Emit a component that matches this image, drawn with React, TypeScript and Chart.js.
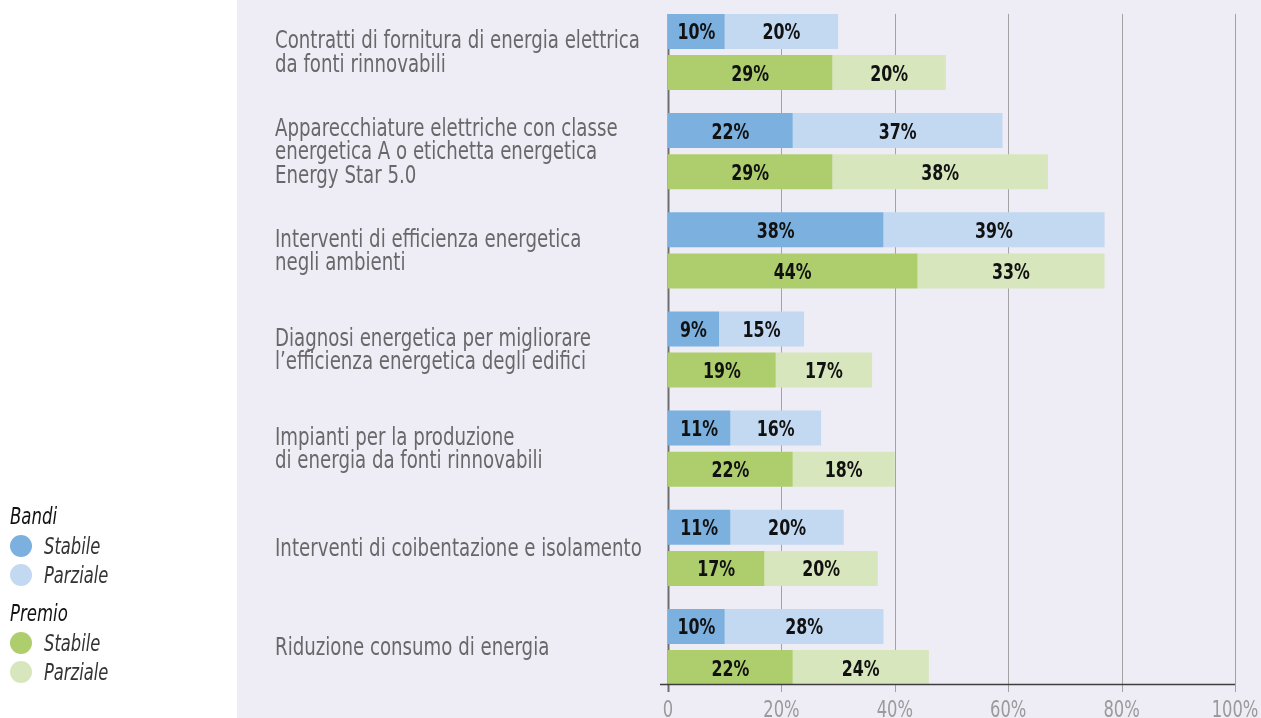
import React, { useEffect, useRef } from "react";
import { Chart, registerables } from "chart.js";

Chart.register(...registerables);

const categories: string[][] = [
  ["Contratti di fornitura di energia elettrica", "da fonti rinnovabili"],
  ["Apparecchiature elettriche con classe", "energetica A o etichetta energetica", "Energy Star 5.0"],
  ["Interventi di efficienza energetica", "negli ambienti"],
  ["Diagnosi energetica per migliorare", "l’efficienza energetica degli edifici"],
  ["Impianti per la produzione", "di energia da fonti rinnovabili"],
  ["Interventi di coibentazione e isolamento"],
  ["Riduzione consumo di energia"],
];

const bandiStabile = [10, 22, 38, 9, 11, 11, 10];
const bandiParziale = [20, 37, 39, 15, 16, 20, 28];
const premioStabile = [29, 29, 44, 19, 22, 17, 22];
const premioParziale = [20, 38, 33, 17, 18, 20, 24];

const xTickValues = [0, 20, 40, 60, 80, 100];
const xTickLabels = ["0", "20%", "40%", "60%", "80%", "100%"];

const legendGroups = [
  { title: "Bandi", items: [{ label: "Stabile", color: "#7BB0DF" }, { label: "Parziale", color: "#C3D8F1" }] },
  { title: "Premio", items: [{ label: "Stabile", color: "#AECE6D" }, { label: "Parziale", color: "#D8E6BD" }] },
];

const FONT = '"DejaVu Sans Condensed", "Liberation Sans Narrow", sans-serif';

function drawNarrow(ctx: any, text: string, x: number, y: number, sx: number, align: string) {
  ctx.save();
  ctx.translate(x, y);
  ctx.scale(sx, 1);
  ctx.textAlign = align;
  ctx.textBaseline = "alphabetic";
  ctx.fillText(text, 0, 0);
  ctx.restore();
}

const customPlugin = {
  id: "customDraw",
  beforeDatasetsDraw(chart: any) {
    const ctx = chart.ctx;
    const x = chart.scales.x;
    const first = chart.getDatasetMeta(0).data[0] as any;
    const lastMeta = chart.getDatasetMeta(3).data;
    const last = lastMeta[lastMeta.length - 1] as any;
    const top = first.y - first.height / 2;
    const axisY = last.y + last.height / 2;
    ctx.save();
    xTickValues.forEach((v) => {
      const px = Math.round(x.getPixelForValue(v)) + 0.5;
      ctx.beginPath();
      if (v === 0) {
        ctx.strokeStyle = "#6E6E70";
        ctx.lineWidth = 2;
      } else {
        ctx.strokeStyle = "#A3A3A6";
        ctx.lineWidth = 1;
      }
      ctx.moveTo(px, top);
      ctx.lineTo(px, axisY + 7);
      ctx.stroke();
    });
    ctx.restore();
  },
  afterDatasetsDraw(chart: any) {
    const ctx = chart.ctx;
    const x = chart.scales.x;
    const y = chart.scales.y;
    const lastMeta = chart.getDatasetMeta(3).data;
    const last = lastMeta[lastMeta.length - 1] as any;
    const axisY = Math.round(last.y + last.height / 2) - 0.5;
    ctx.save();
    // value labels
    ctx.font = `bold 22px ${FONT}`;
    ctx.fillStyle = "#111";
    chart.data.datasets.forEach((ds: any, di: number) => {
      const meta = chart.getDatasetMeta(di);
      meta.data.forEach((bar: any, i: number) => {
        const cx = (bar.x + bar.base) / 2;
        drawNarrow(ctx, ds.data[i] + "%", cx, bar.y + 8, 0.8, "center");
      });
    });
    // axis line
    ctx.beginPath();
    ctx.strokeStyle = "#3E3E40";
    ctx.lineWidth = 1.5;
    ctx.moveTo(x.getPixelForValue(0) - 8, axisY);
    ctx.lineTo(x.getPixelForValue(100), axisY);
    ctx.stroke();
    // x tick labels
    ctx.font = `23px ${FONT}`;
    ctx.fillStyle = "#9A9A9C";
    xTickValues.forEach((v, i) => {
      drawNarrow(ctx, xTickLabels[i], x.getPixelForValue(v), 717, 0.79, "center");
    });
    // category labels
    ctx.font = `24px ${FONT}`;
    ctx.fillStyle = "#68686A";
    const lh = 23.4;
    categories.forEach((lines, i) => {
      const cy = y.getPixelForValue(i);
      lines.forEach((line, k) => {
        const by = cy + (k - (lines.length - 1) / 2) * lh + 8;
        drawNarrow(ctx, line, 275, by, 0.842, "left");
      });
    });
    ctx.restore();
  },
};

export default function App() {
  const canvasRef = useRef<HTMLCanvasElement | null>(null);

  useEffect(() => {
    if (!canvasRef.current) return;
    const chart = new Chart(canvasRef.current, {
      type: "bar",
      data: {
        labels: categories.map((c) => c.join(" ")),
        datasets: [
          { label: "Bandi Stabile", data: bandiStabile, backgroundColor: legendGroups[0].items[0].color, stack: "bandi" },
          { label: "Bandi Parziale", data: bandiParziale, backgroundColor: legendGroups[0].items[1].color, stack: "bandi" },
          { label: "Premio Stabile", data: premioStabile, backgroundColor: legendGroups[1].items[0].color, stack: "premio" },
          { label: "Premio Parziale", data: premioParziale, backgroundColor: legendGroups[1].items[1].color, stack: "premio" },
        ],
      },
      options: {
        indexAxis: "y",
        responsive: false,
        animation: false,
        layout: { padding: { left: 275, right: 26, top: 2.4, bottom: 0 } },
        datasets: { bar: { categoryPercentage: 0.83, barPercentage: 0.85 } },
        plugins: { legend: { display: false }, tooltip: { enabled: false } },
        scales: {
          x: {
            type: "linear",
            stacked: true,
            min: 0,
            max: 100,
            afterFit: (scale: any) => {
              scale.height = 21.4;
            },
            grid: { display: false, drawTicks: false },
            border: { display: false },
            ticks: { display: false, stepSize: 20 },
          },
          y: {
            type: "category",
            stacked: true,
            afterFit: (scale: any) => {
              scale.width = 393;
            },
            grid: { display: false, drawTicks: false },
            border: { display: false },
            ticks: { display: false },
          },
        },
      },
      plugins: [customPlugin],
    } as any);
    return () => chart.destroy();
  }, []);

  return (
    <div style={{ position: "absolute", left: 0, top: 0, width: 1261, height: 718, background: "#FFFFFF", overflow: "hidden" }}>
      <div style={{ position: "absolute", left: 237, top: 0, width: 1024, height: 718, background: "#EEEDF5" }} />
      <canvas ref={canvasRef} width={1261} height={718} style={{ position: "absolute", left: 0, top: 0 }} />
      <div style={{ position: "absolute", left: 10, top: 502, fontFamily: FONT, fontStyle: "italic" }}>
        {legendGroups.map((g, gi) => (
          <div key={gi} style={{ marginBottom: gi === 0 ? 9 : 0 }}>
            <div style={{ fontSize: 23, color: "#111", lineHeight: "29px", height: 29 }}>
              <span style={{ display: "inline-block", transform: "scaleX(0.8)", transformOrigin: "left center" }}>{g.title}</span>
            </div>
            {g.items.map((it, ii) => (
              <div key={ii} style={{ display: "flex", alignItems: "center", height: 29.5 }}>
                <span style={{ display: "inline-block", width: 22, height: 22, borderRadius: "50%", background: it.color, marginRight: 12 }} />
                <span style={{ display: "inline-block", fontSize: 23, color: "#333", transform: "scaleX(0.79)", transformOrigin: "left center" }}>{it.label}</span>
              </div>
            ))}
          </div>
        ))}
      </div>
    </div>
  );
}
